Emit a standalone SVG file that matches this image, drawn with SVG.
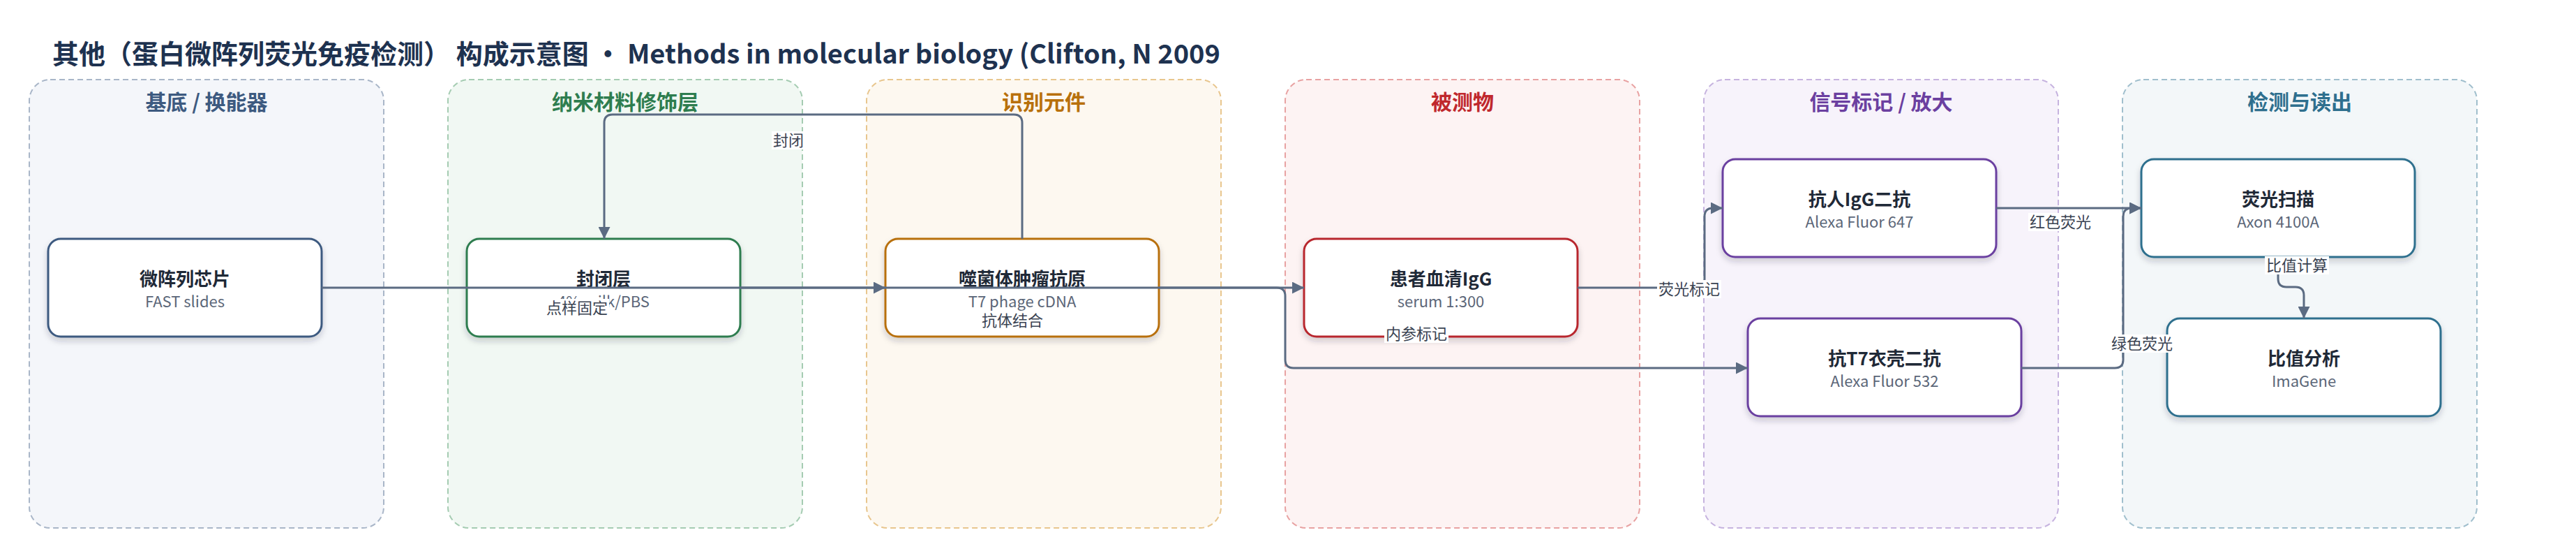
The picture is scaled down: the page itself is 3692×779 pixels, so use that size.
<svg xmlns="http://www.w3.org/2000/svg" width="3692" height="779" viewBox="0 0 3692 779">
<style>
text{font-family:"Noto Sans CJK SC","Noto Sans",sans-serif}
.title{font-size:38px;font-weight:700;fill:#1e3250}
.lt{font-size:30px;font-weight:700;text-anchor:middle}
.lane{stroke-width:2;stroke-dasharray:8 5}
.node{fill:#fff;stroke-width:3;filter:url(#sh)}
.nt{font-size:26px;font-weight:700;fill:#1f2937;text-anchor:middle}
.ns{font-size:22px;fill:#5b6678;text-anchor:middle}
.edge{fill:none;stroke:#5b6b82;stroke-width:3;marker-end:url(#arr)}
.el{font-size:22px;fill:#3a4352;text-anchor:middle}
.lb{fill:#fff}
</style>
<defs>
<filter id="sh" x="-10%" y="-10%" width="120%" height="135%">
<feDropShadow dx="0" dy="5" stdDeviation="4" flood-color="#1e293b" flood-opacity="0.2"/>
</filter>
<marker id="arr" viewBox="0 0 10 10" refX="10" refY="5" markerWidth="18" markerHeight="17" markerUnits="userSpaceOnUse" orient="auto">
<path d="M0,0 L10,5 L0,10 z" fill="#5b6b82"/>
</marker>
</defs>
<rect width="3692" height="779" fill="#fff"/>
<text class="title" x="75" y="91">其他（蛋白微阵列荧光免疫检测） 构成示意图 · Methods in molecular biology (Clifton, N 2009</text>

<g id="lanes">
<g id="lane-1"><rect class="lane" x="42" y="114" width="508" height="642" rx="30" fill="#f4f6fa" stroke="#a9b6c8"/><text class="lt" x="296" y="157" fill="#3d5a80">基底 / 换能器</text></g>
<g id="lane-2"><rect class="lane" x="642" y="114" width="508" height="642" rx="30" fill="#f1f8f3" stroke="#a5ccb2"/><text class="lt" x="896" y="157" fill="#2e7d4f">纳米材料修饰层</text></g>
<g id="lane-3"><rect class="lane" x="1242" y="114" width="508" height="642" rx="30" fill="#fdf8f0" stroke="#e8c68e"/><text class="lt" x="1496" y="157" fill="#b8700b">识别元件</text></g>
<g id="lane-4"><rect class="lane" x="1842" y="114" width="508" height="642" rx="30" fill="#fdf3f3" stroke="#e8a2a2"/><text class="lt" x="2096" y="157" fill="#c0282d">被测物</text></g>
<g id="lane-5"><rect class="lane" x="2442" y="114" width="508" height="642" rx="30" fill="#f7f3fb" stroke="#c6b3df"/><text class="lt" x="2696" y="157" fill="#6b3fa0">信号标记 / 放大</text></g>
<g id="lane-6"><rect class="lane" x="3042" y="114" width="508" height="642" rx="30" fill="#f3f7f9" stroke="#a0bfcd"/><text class="lt" x="3296" y="157" fill="#2e6f8e">检测与读出</text></g>
</g>

<g id="node-chip"><rect class="node" x="69" y="342" width="392" height="140" rx="18" stroke="#3d5a80"/><text class="nt" x="265" y="409">微阵列芯片</text><text class="ns" x="265" y="440">FAST slides</text></g>
<g id="node-block"><rect class="node" x="669" y="342" width="392" height="140" rx="18" stroke="#2e7d4f"/><text class="nt" x="865" y="409">封闭层</text><text class="ns" x="865" y="440">4% milk/PBS</text></g>
<g id="node-antigen"><rect class="node" x="1269" y="342" width="392" height="140" rx="18" stroke="#b8700b"/><text class="nt" x="1465" y="409">噬菌体肿瘤抗原</text><text class="ns" x="1465" y="440">T7 phage cDNA</text></g>
<g id="node-serum"><rect class="node" x="1869" y="342" width="392" height="140" rx="18" stroke="#b8282d"/><text class="nt" x="2065" y="409">患者血清IgG</text><text class="ns" x="2065" y="440">serum 1:300</text></g>
<g id="node-anti-igg"><rect class="node" x="2469" y="228" width="392" height="140" rx="18" stroke="#6b3fa0"/><text class="nt" x="2665" y="295">抗人IgG二抗</text><text class="ns" x="2665" y="326">Alexa Fluor 647</text></g>
<g id="node-anti-t7"><rect class="node" x="2505" y="456" width="392" height="140" rx="18" stroke="#6b3fa0"/><text class="nt" x="2701" y="523">抗T7衣壳二抗</text><text class="ns" x="2701" y="554">Alexa Fluor 532</text></g>
<g id="node-scan"><rect class="node" x="3069" y="228" width="392" height="140" rx="18" stroke="#2e6f8e"/><text class="nt" x="3265" y="295">荧光扫描</text><text class="ns" x="3265" y="326">Axon 4100A</text></g>
<g id="node-ratio"><rect class="node" x="3106" y="456" width="392" height="140" rx="18" stroke="#2e6f8e"/><text class="nt" x="3302" y="523">比值分析</text><text class="ns" x="3302" y="554">ImaGene</text></g>

<g id="connectors">
<path class="edge" d="M461,412 H1269"/>
<path class="edge" d="M1465,342 V176 Q1465,164 1453,164 H878 Q866,164 866,176 V342"/>
<path class="edge" d="M1061,412 H1869"/>
<path class="edge" d="M1661,412 H1830 Q1842,412 1842,424 V515 Q1842,527 1854,527 H2505"/>
<path class="edge" d="M2261,412 H2431 Q2443,412 2443,400 V310 Q2443,298 2455,298 H2469"/>
<path class="edge" d="M2861,298 H3069"/>
<path class="edge" d="M2897,527 H3031 Q3043,527 3043,515 V310 Q3043,298 3055,298 H3069"/>
<path class="edge" d="M3265,368 V399 Q3265,411 3277,411 H3290 Q3302,411 3302,423 V456"/>
<g id="edge-labels">
<rect class="lb" x="781" y="428" width="92" height="26"/><text class="el" x="827" y="449">点样固定</text>
<rect class="lb" x="1106" y="188" width="48" height="26"/><text class="el" x="1130" y="209">封闭</text>
<rect class="lb" x="1405" y="446" width="92" height="26"/><text class="el" x="1451" y="467">抗体结合</text>
<rect class="lb" x="1984" y="465" width="92" height="26"/><text class="el" x="2030" y="486">内参标记</text>
<rect class="lb" x="2375" y="401" width="92" height="26"/><text class="el" x="2421" y="422">荧光标记</text>
<rect class="lb" x="2907" y="305" width="92" height="26"/><text class="el" x="2953" y="326">红色荧光</text>
<rect class="lb" x="3024" y="479" width="92" height="26"/><text class="el" x="3070" y="500">绿色荧光</text>
<rect class="lb" x="3246" y="367" width="92" height="26"/><text class="el" x="3292" y="388">比值计算</text>
</g>
</g>
</svg>
